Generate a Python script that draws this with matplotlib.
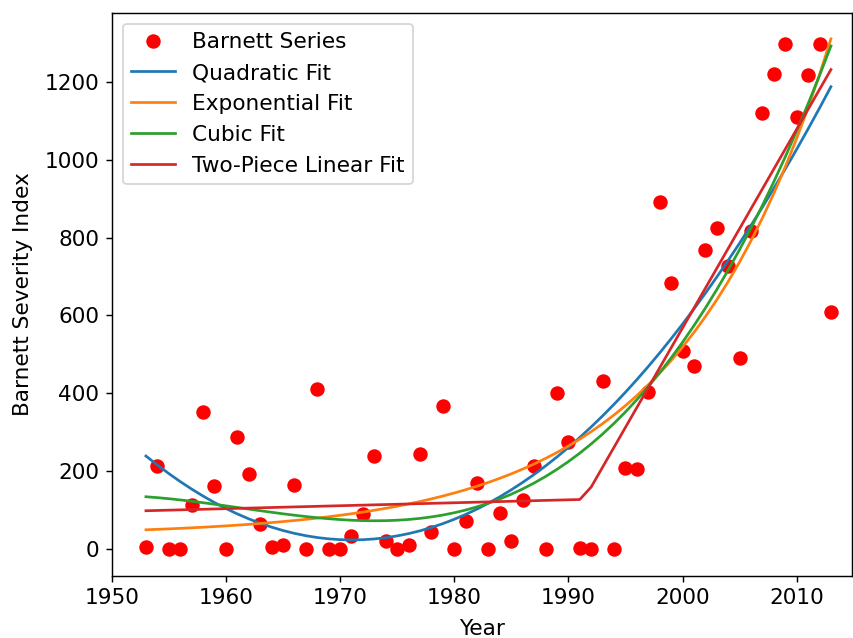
import matplotlib
matplotlib.use("Agg")
import matplotlib.pyplot as plt
import numpy as np

plt.rcParams['font.size'] = 12

# Barnett severity index by year
years = np.arange(1953, 2014)
barnett = [7, 214, 0, 0, 115, 353, 162, 0, 287, 193,
           65, 6, 10, 166, 1, 411, 0, 0, 34, 90,
           239, 22, 0, 10, 244, 45, 368, 2, 73, 171,
           0, 92, 21, 127, 215, 0, 400, 276, 3, 0,
           432, 0, 209, 205, 403, 892, 684, 508, 470, 768,
           825, 728, 490, 818, 1119, 1220, 1297, 1110, 1216, 1297,
           610]
split_year = 1991

y = np.array(barnett, dtype=float)
t = years - years[0]

# polynomial fits
quad = np.polyval(np.polyfit(t, y, 2), t)
cubic = np.polyval(np.polyfit(t, y, 3), t)

# exponential fit  y = c + A*exp(b*t), least squares over b
best = None
for b in np.linspace(0.001, 0.2, 4000):
    M = np.column_stack([np.ones_like(t, dtype=float), np.exp(b * t)])
    coef, res, rk, sv = np.linalg.lstsq(M, y, rcond=None)
    sse = np.sum((M @ coef - y) ** 2)
    if best is None or sse < best[0]:
        best = (sse, b, coef)
_, b, coef = best
expo = coef[0] + coef[1] * np.exp(b * t)

# two-piece linear fit
m1 = years <= split_year
m2 = ~m1
p1 = np.polyfit(years[m1], y[m1], 1)
p2 = np.polyfit(years[m2], y[m2], 1)
twopiece = np.concatenate([np.polyval(p1, years[m1]), np.polyval(p2, years[m2])])

fig = plt.figure(figsize=(853 / 130, 638 / 130), dpi=130)
ax = fig.add_axes([111.7 / 853, 1 - 575.7 / 638, (851.5 - 111.7) / 853, (575.7 - 12.7) / 638])

ax.plot(years, y, 'ro', markersize=7, label='Barnett Series')
ax.plot(years, quad, label='Quadratic Fit')
ax.plot(years, expo, label='Exponential Fit')
ax.plot(years, cubic, label='Cubic Fit')
ax.plot(years, twopiece, label='Two-Piece Linear Fit')

ax.set_xlim(1950, 2014.8)
ax.set_ylim(-67.7, 1377)
ax.set_xlabel('Year', labelpad=6)
ax.set_ylabel('Barnett Severity Index', labelpad=6)
ax.legend(loc='upper left')

fig.savefig('out.png', dpi=130)
